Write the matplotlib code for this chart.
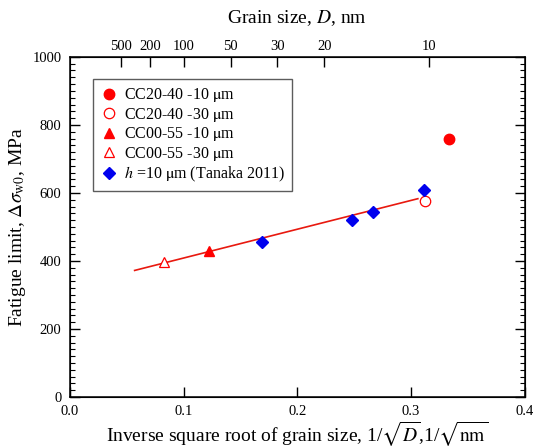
import numpy as np
import matplotlib.pyplot as plt
from matplotlib.ticker import MultipleLocator, FormatStrFormatter

plt.rcParams['font.family'] = ['Liberation Serif', 'DejaVu Serif']
plt.rcParams['mathtext.fontset'] = 'stix'

# fatigue limit data, x = 1/sqrt(D) [1/sqrt(nm)], y = MPa
cc2040_10_x = [0.333]
cc2040_10_y = [758]
cc2040_30_x = [0.312]
cc2040_30_y = [576]
cc0055_10_x = [0.122]
cc0055_10_y = [430]
cc0055_30_x = [0.083]
cc0055_30_y = [396]
tanaka_x = [0.169, 0.248, 0.267, 0.311]
tanaka_y = [457, 519, 543, 610]

# linear fit
fit_x = [0.057, 0.306]
fit_y = [372, 583]

# grain size ticks on top axis, nm
grain_d = [500, 200, 100, 50, 30, 20, 10]


def plot_fatigue():
    fig = plt.figure(figsize=(5.41, 4.48), dpi=100)
    ax = fig.add_axes([0.129, 0.114, 0.841, 0.759])

    ax.plot(fit_x, fit_y, color='#e8190f', lw=1.2, zorder=2)
    ax.plot(cc2040_10_x, cc2040_10_y, 'o', color='red', ms=7.5, ls='none',
            label=r'CC20-40 -10 $\mathrm{\mu}$m')
    ax.plot(cc2040_30_x, cc2040_30_y, 'o', mfc='white', mec='red', mew=0.9, ms=7.5, ls='none',
            label=r'CC20-40 -30 $\mathrm{\mu}$m')
    ax.plot(cc0055_10_x, cc0055_10_y, '^', color='red', ms=7.5, ls='none',
            label=r'CC00-55 -10 $\mathrm{\mu}$m')
    ax.plot(cc0055_30_x, cc0055_30_y, '^', mfc='white', mec='red', mew=0.9, ms=7.5, ls='none',
            label=r'CC00-55 -30 $\mathrm{\mu}$m')
    ax.plot(tanaka_x, tanaka_y, 'D', color='#0000ee', ms=6, ls='none',
            label=r'$h$ =10 $\mathrm{\mu}$m (Tanaka 2011)')

    ax.set_xlim(0, 0.4)
    ax.set_ylim(0, 1000)
    ax.set_xticks([0.0, 0.1, 0.2, 0.3, 0.4])
    ax.xaxis.set_major_formatter(FormatStrFormatter('%.1f'))
    ax.yaxis.set_major_locator(MultipleLocator(200))
    ax.yaxis.set_minor_locator(MultipleLocator(20))
    ax.tick_params(axis='both', which='both', direction='in', labelsize=10.5)
    ax.tick_params(axis='y', which='both', right=True, pad=6)
    ax.tick_params(axis='x', which='both', top=False, pad=6)
    ax.tick_params(which='major', length=7, width=1)
    ax.tick_params(which='minor', length=3.5, width=0.8)
    for sp in ax.spines.values():
        sp.set_linewidth(1.1)

    ax.set_xlabel(r'Inverse square root of grain size, 1/$\sqrt{D}$,1/$\sqrt{\mathrm{nm}}$',
                  fontsize=14, labelpad=1)
    ax.set_ylabel(r'Fatigue limit, $\mathit{\Delta\sigma}_{\mathrm{w0}}$, MPa', fontsize=14, labelpad=3)

    # grain size scale on top
    ax2 = ax.twiny()
    ax2.set_xlim(ax.get_xlim())
    ax2.set_xticks(1 / np.sqrt(np.array(grain_d, dtype=float)))
    ax2.set_xticklabels([str(d) for d in grain_d])
    ax2.tick_params(axis='x', direction='in', length=7, width=1, labelsize=10.5, pad=3)
    ax2.set_xlabel(r'Grain size, $D$, nm', fontsize=14, labelpad=12)

    leg = ax.legend(loc='upper left', bbox_to_anchor=(0.05, 0.935), fontsize=11.5,
                    frameon=True, fancybox=False, edgecolor='#333333', handletextpad=0.3,
                    handlelength=1.2, borderpad=0.45, labelspacing=0.1, borderaxespad=0)
    leg.get_frame().set_linewidth(1.0)

    fig.savefig('out.png', dpi=100)
    plt.close(fig)


if __name__ == '__main__':
    plot_fatigue()
